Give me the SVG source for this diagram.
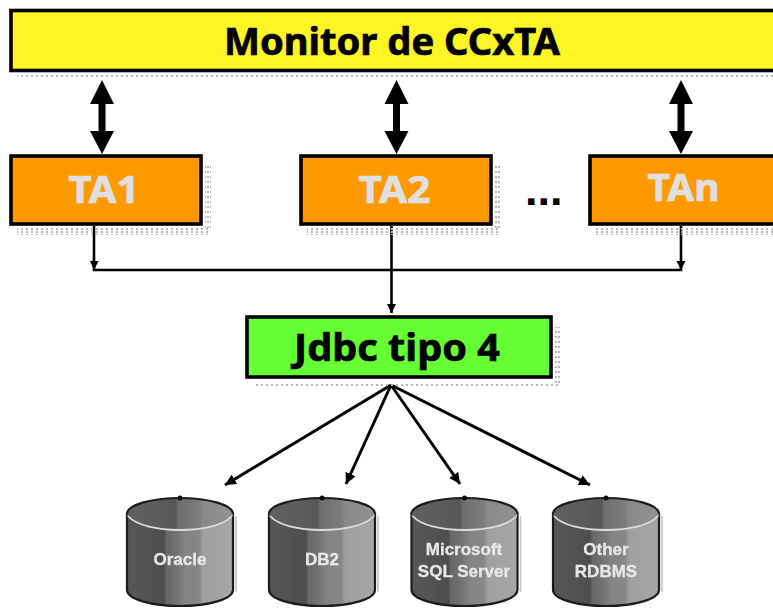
<svg xmlns="http://www.w3.org/2000/svg" width="773" height="609" viewBox="0 0 773 609">
<style>
.box{stroke:#000;stroke-width:3.6}
.lbl{font-family:"Noto Sans","Open Sans","DejaVu Sans",sans-serif;font-weight:700;font-size:38px;stroke-width:.7}
.dark{fill:#000;stroke:#000}
.light{fill:#e0e0e0;stroke:#e0e0e0}
.dots{font-family:"Liberation Sans",Arial,sans-serif;font-weight:700;font-size:45px;fill:#000}
.thin{fill:none;stroke:#000;stroke-width:2.6}
.fan{fill:none;stroke:#000;stroke-width:3}
.db{font-family:"Liberation Sans",Arial,sans-serif;font-weight:700;font-size:17px;fill:#e8e8e8;stroke:#e8e8e8;stroke-width:.3;text-anchor:middle}
.shell{fill:url(#body);stroke:#1c1c1c;stroke-width:2.2}
.top{fill:url(#lid)}
.rim{fill:none;stroke:#ddd;stroke-width:1.8}
.rim2{fill:none;stroke:#1c1c1c;stroke-width:2.2}
.edge{fill:none;stroke:#c4c4c4;stroke-width:1.6}
.soft{filter:url(#blur)}
</style>
<defs>
<filter id="blur" x="-5%" y="-5%" width="110%" height="110%"><feGaussianBlur stdDeviation=".55"/></filter>
<pattern id="dots" width="5" height="3" patternUnits="userSpaceOnUse"><rect x="1" y="0" width="2" height="2" fill="#b8b8b8"/></pattern>
<pattern id="dots2" width="3" height="5" patternUnits="userSpaceOnUse"><rect x="0" y="1" width="2" height="2" fill="#b8b8b8"/></pattern>
<marker id="tip" markerUnits="userSpaceOnUse" markerWidth="13" markerHeight="11" refX="11" refY="5.500" orient="auto"><path d="M0 0L11 5.500L0 11z" fill="#000"/></marker>
<linearGradient id="body" x1="0" x2="1" y1="0" y2="0">
<stop offset="0" stop-color="#565656"/><stop offset=".35" stop-color="#4e4e4e"/><stop offset=".37" stop-color="#686868"/><stop offset=".47" stop-color="#727272"/><stop offset=".55" stop-color="#848484"/><stop offset=".68" stop-color="#868686"/><stop offset=".72" stop-color="#a0a0a0"/><stop offset="1" stop-color="#a6a6a6"/>
</linearGradient>
<linearGradient id="lid" x1="0" x2="1" y1="0" y2="0">
<stop offset="0" stop-color="#606060"/><stop offset=".46" stop-color="#585858"/><stop offset=".48" stop-color="#6e6e6e"/><stop offset=".68" stop-color="#7c7c7c"/><stop offset=".72" stop-color="#8a8a8a"/><stop offset="1" stop-color="#929292"/>
</linearGradient>
<g id="cyl">
<path class="edge" d="M56 18V94"/>
<path class="shell" d="M-53 16V92C-53 101-29 108 0 108C29 108 53 101 53 92V16Z"/>
<ellipse class="top" cx="0" cy="16" rx="53" ry="16"/>
<path class="rim" d="M-52 18C-44 27-24 32 0 32C24 32 44 27 52 18"/>
<path class="rim2" d="M-53 16C-53 7-29 0 0 0C29 0 53 7 53 16"/>
<circle cx="0" cy="0" r="2.500" fill="#111"/>
</g>
</defs>
<rect x="17" y="75" width="756" height="3" fill="url(#dots)"/>
<g id="connectors">
<path d="M102 80L114 104H105.500V131H114L102 154L90 131H98.500V104H90Z" fill="#000"/>
<path d="M396.500 80L408.500 104H400V131H408.500L396.500 154L384.500 131H393V104H384.500Z" fill="#000"/>
<path d="M681 80L693 104H684.500V131H693L681 154L669 131H677.500V104H669Z" fill="#000"/>
<path class="thin" d="M94 226V270H681V226"/>
<path class="thin" d="M391.500 226V313"/>
<path d="M90 261H98.500L94 270ZM676.500 261H685.500L681 270ZM387 304H396L391.500 313Z" fill="#000"/>
<path class="fan" marker-end="url(#tip)" d="M391 385L225 485"/>
<path class="fan" marker-end="url(#tip)" d="M391 385L346 484"/>
<path class="fan" marker-end="url(#tip)" d="M391 385L460 484"/>
<path class="fan" marker-end="url(#tip)" d="M391 385L590 485"/>
</g>
<g id="monitor">
<rect class="box" x="11" y="10.500" width="770" height="60" fill="#fff424"/>
<text class="lbl dark" x="392" y="55" text-anchor="middle" textLength="336" lengthAdjust="spacingAndGlyphs">Monitor de CCxTA</text>
</g>
<g id="ta1">
<rect x="17" y="228" width="194" height="7" fill="url(#dots)"/><rect x="205" y="166" width="6" height="62" fill="url(#dots2)"/>
<rect class="box" x="11" y="156" width="190" height="68" fill="#ff9900"/>
<text class="lbl light" x="104" y="203" text-anchor="middle" textLength="71" lengthAdjust="spacingAndGlyphs">TA1</text>
</g>
<g id="ta2">
<rect x="307" y="228" width="194" height="7" fill="url(#dots)"/><rect x="495" y="166" width="6" height="62" fill="url(#dots2)"/>
<rect class="box" x="301" y="156" width="190" height="68" fill="#ff9900"/>
<text class="lbl light" x="394.500" y="203" text-anchor="middle" textLength="72" lengthAdjust="spacingAndGlyphs">TA2</text>
</g>
<g id="tan">
<rect x="596" y="228" width="177" height="7" fill="url(#dots)"/>
<rect class="box" x="590" y="156" width="190" height="68" fill="#ff9900"/>
<text class="lbl light" x="683.500" y="201" text-anchor="middle" textLength="72" lengthAdjust="spacingAndGlyphs">TAn</text>
</g>
<g id="ellipsis"><text class="dots" x="525" y="205">...</text></g>
<g id="jdbc">
<rect x="254" y="383" width="307" height="4" fill="url(#dots)"/><rect x="555" y="327" width="6" height="56" fill="url(#dots2)"/>
<rect class="box" x="247" y="317" width="304" height="60" fill="#66ff33"/>
<text class="lbl dark" x="397" y="361" text-anchor="middle" textLength="206" lengthAdjust="spacingAndGlyphs">Jdbc tipo 4</text>
</g>
<g id="oracle" class="soft"><use href="#cyl" x="180" y="498"/><text class="db" x="180" y="565">Oracle</text></g>
<g id="db2" class="soft"><use href="#cyl" x="322" y="498"/><text class="db" x="322" y="565">DB2</text></g>
<g id="sqlserver" class="soft"><use href="#cyl" x="464.500" y="498"/><text class="db" x="464" y="555">Microsoft</text><text class="db" x="464" y="577">SQL Server</text></g>
<g id="other" class="soft"><use href="#cyl" x="606" y="498"/><text class="db" x="606" y="555">Other</text><text class="db" x="606" y="577">RDBMS</text></g>
</svg>
